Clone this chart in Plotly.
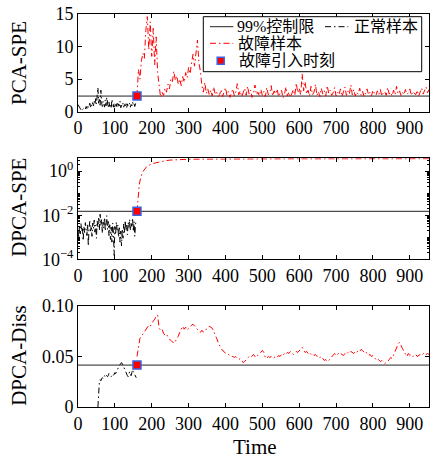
import plotly.graph_objects as go

# ---------------- data ----------------
x_ticks = [0, 100, 200, 300, 400, 500, 600, 700, 800, 900]
fault_time = 160

# PCA-SPE
pca_limit = 2.4
pca_normal = [1.1, 0.9, 0.6, 0.4, 0.3, 0.5, 0.3, 0.4, 0.6, 0.5,
              0.4, 0.8, 0.5, 1.0, 0.6, 0.9, 1.3, 0.7, 1.1, 0.8,
              1.4, 0.9, 1.6, 1.1, 2.0, 1.2, 2.4, 3.7, 1.3, 2.1,
              1.0, 3.3, 1.4, 0.8, 1.6, 1.1, 0.7, 1.8, 0.9, 2.2,
              1.0, 0.6, 1.5, 0.8, 1.2, 0.5, 1.9, 0.9, 0.7, 1.3,
              0.6, 1.1, 0.8, 1.5, 0.7, 1.2, 0.9, 1.6, 0.6, 1.0,
              0.8, 1.3, 0.7, 1.1, 0.9, 1.4, 0.6, 1.2, 0.8, 1.0,
              1.3, 0.7, 1.1, 0.9, 1.5, 1.0, 1.2, 0.8, 1.4, 1.6]
pca_fault = [2.4, 6.5, 5.0, 7.8, 9.0, 8.2, 12.5, 14.6, 9.5, 13.8,
             8.5, 12.8, 7.2, 11.5, 6.0, 4.0, 2.2, 3.0, 2.5, 3.6,
             3.0, 4.2, 3.5, 5.0, 4.6, 6.2, 4.8, 5.5, 4.2, 5.0,
             4.0, 5.4, 4.5, 6.0, 5.2, 6.8, 5.8, 7.5, 8.8, 7.0,
             9.3, 11.0, 7.5, 6.2, 4.0, 3.0, 4.5, 2.8, 3.5, 2.6,
             3.3, 2.4, 3.8, 2.7, 3.0, 2.3,
             2.6, 3.4, 2.3, 2.9, 3.7, 2.5, 3.1, 2.2, 2.8, 3.5,
             2.4, 3.0, 4.3, 2.6, 3.2, 2.3, 2.9, 3.6, 2.5, 3.9,
             2.7, 3.3, 2.2, 2.8, 4.1, 2.6, 3.0, 2.4, 3.4, 2.5,
             3.1, 2.3, 3.7, 2.6, 2.9, 4.0, 2.4, 3.2, 2.7, 3.5,
             2.3, 2.9, 3.3, 2.1, 2.7, 3.8, 2.4, 3.0, 2.2, 2.8,
             3.4, 2.5, 4.4, 2.9, 3.6, 2.6, 5.8, 3.2, 4.6, 2.7,
             3.3, 2.4, 3.9, 2.6, 3.0, 4.2, 2.5, 3.1, 2.3, 3.6,
             2.7, 3.2, 2.4, 4.0, 2.8, 3.3, 2.5, 2.9, 3.7, 2.4,
             3.0, 2.6, 3.5, 2.3, 2.9, 3.8, 2.5, 3.2, 2.7, 4.1,
             2.6, 3.4, 2.4, 3.0, 2.7, 3.6, 2.5, 3.1, 2.3, 2.9,
             3.5, 2.6, 3.0, 2.4, 3.3, 2.8, 2.5, 3.2, 2.6, 3.4,
             2.4, 2.9, 3.1, 2.5, 3.7, 2.7, 3.0, 2.4, 3.3, 2.6,
             3.9, 2.8, 3.2, 2.5, 3.0, 2.6, 3.4, 2.7, 2.9, 3.5,
             2.5, 3.1, 2.8, 2.6, 3.3, 2.4, 3.0, 3.6, 2.7, 3.2,
             3.8, 2.9, 3.4]

# DPCA-SPE
dspe_limit = 0.015
dspe_normal = [0.0021, 0.0009, 0.0035, 0.0014, 0.0042, 0.0018, 0.0028, 0.0007, 0.0031, 0.0016,
               0.0046, 0.0022, 0.0012, 0.0038, 0.0004, 0.0027, 0.0052, 0.0019, 0.0033, 0.0011,
               0.0044, 0.0025, 0.0060, 0.0017, 0.0036, 0.0009, 0.0055, 0.0029, 0.0072, 0.0021,
               0.0110, 0.0034, 0.0065, 0.0015, 0.0048, 0.0026, 0.0080, 0.0019, 0.0041, 0.0095,
               0.0023, 0.0052, 0.0012, 0.0037, 0.0008, 0.0029, 0.0006, 0.0044, 0.0017, 0.00015,
               0.0031, 0.0013, 0.0049, 0.0022, 0.0035, 0.0010, 0.0027, 0.0006, 0.0019, 0.0004,
               0.0024, 0.0009, 0.0040, 0.0016, 0.0058, 0.0021, 0.0036, 0.0013, 0.0047, 0.0028,
               0.0066, 0.0020, 0.0043, 0.0031, 0.0075, 0.0018, 0.0052, 0.0011, 0.0039, 0.0060]
dspe_fault_t = [160, 162, 164, 166, 168, 170, 173, 176, 180, 185, 190, 195, 200,
                210, 220, 230, 240, 250, 260, 270, 280, 290, 300,
                320, 340, 360, 380, 400, 420, 440, 460, 480, 500, 520, 540, 560,
                580, 600, 620, 640, 660, 680, 700, 720, 740, 760, 780, 800, 820,
                840, 860, 880, 900, 920, 940, 952]
dspe_fault = [0.015, 0.05, 0.12, 0.22, 0.35, 0.5, 0.72, 0.95, 1.2, 1.5, 1.75, 1.95, 2.1,
              2.35, 2.6, 2.8, 3.0, 3.15, 3.25, 3.32, 3.38, 3.42, 3.45,
              3.47, 3.5, 3.48, 3.52, 3.55, 3.53, 3.56, 3.58, 3.55, 3.57, 3.6, 3.58, 3.61,
              3.59, 3.62, 3.6, 3.63, 3.61, 3.6, 3.63, 3.62, 3.64, 3.62, 3.65, 3.63, 3.64,
              3.62, 3.65, 3.64, 3.66, 3.64, 3.65, 3.66]

# DPCA-Diss
diss_limit = 0.0415
diss_normal_start = 54
diss_normal = [0.0, 0.024, 0.025, 0.027, 0.026, 0.028, 0.029, 0.028, 0.030, 0.031,
               0.030, 0.032, 0.031, 0.030, 0.031, 0.033, 0.032, 0.031, 0.030, 0.031,
               0.032, 0.031, 0.033, 0.034, 0.033, 0.035, 0.036, 0.038, 0.039, 0.041,
               0.042, 0.043, 0.044, 0.043, 0.041, 0.040, 0.038, 0.036, 0.034, 0.033,
               0.031, 0.030, 0.032, 0.035, 0.033, 0.031, 0.034, 0.037, 0.035, 0.033,
               0.031, 0.030, 0.029]
diss_fault = [0.050, 0.062, 0.068, 0.070, 0.072, 0.075, 0.077, 0.079, 0.081, 0.080,
              0.083, 0.085, 0.087, 0.090, 0.091, 0.078, 0.076, 0.077, 0.073, 0.071,
              0.072, 0.069, 0.067, 0.066, 0.064, 0.063, 0.065, 0.067, 0.070, 0.074,
              0.078, 0.080, 0.077, 0.079, 0.076, 0.078, 0.080, 0.081, 0.082, 0.080,
              0.078, 0.077, 0.075, 0.074, 0.076, 0.074, 0.075, 0.077, 0.078, 0.080,
              0.079, 0.078, 0.075, 0.072, 0.068, 0.064, 0.060, 0.058, 0.056, 0.055,
              0.053, 0.052, 0.052, 0.051, 0.050, 0.050, 0.049, 0.050, 0.048, 0.047,
              0.048, 0.046, 0.044, 0.045, 0.047, 0.048, 0.050, 0.049, 0.051, 0.052,
              0.050, 0.052, 0.051, 0.053, 0.055, 0.056, 0.054, 0.049, 0.048, 0.050,
              0.049, 0.050, 0.048, 0.049, 0.050, 0.049, 0.051, 0.050, 0.052, 0.051,
              0.053, 0.052, 0.054, 0.053, 0.055, 0.054, 0.052, 0.053, 0.055, 0.054,
              0.056, 0.058, 0.059, 0.056, 0.054, 0.055, 0.053, 0.054, 0.052, 0.053,
              0.051, 0.052, 0.050, 0.051, 0.049, 0.050, 0.048, 0.046, 0.047, 0.045,
              0.046, 0.048, 0.050, 0.052, 0.053, 0.051, 0.052, 0.054, 0.053, 0.052,
              0.051, 0.053, 0.052, 0.054, 0.053, 0.055, 0.054, 0.053, 0.055, 0.054,
              0.056, 0.055, 0.057, 0.056, 0.054, 0.055, 0.053, 0.051, 0.052, 0.050,
              0.051, 0.049, 0.047, 0.048, 0.046, 0.045, 0.046, 0.044, 0.043, 0.044,
              0.045, 0.047, 0.049, 0.048, 0.052, 0.055, 0.058, 0.062, 0.064, 0.060,
              0.058, 0.055, 0.052, 0.050, 0.053, 0.051, 0.052, 0.050, 0.051, 0.052,
              0.050, 0.051, 0.052, 0.051, 0.053, 0.054, 0.052, 0.053, 0.052]

legend_labels = ["99%控制限", "正常样本", "故障样本", "故障引入时刻"]
y_titles = ["PCA-SPE", "DPCA-SPE", "DPCA-Diss"]
x_title = "Time"

# ---------------- styling ----------------
W, H = 430, 461
ML, MR, MT, MB = 78, 1, 14, 54
PW, PH = W - ML - MR, H - MT - MB
FONT = "Liberation Serif, Times New Roman, Noto Sans CJK SC, serif"
RED = "#ff0000"
DASHDOT = "6px,3px,1.5px,3px"
X_MAX = 952


def px(x):
    return (x - ML) / PW


def py(y):
    return (H - MB - y) / PH


t_pca_normal = [2 * i for i in range(len(pca_normal))]
t_pca_fault = [fault_time + 4 * i for i in range(len(pca_fault))]
t_dspe_normal = [2 * i for i in range(len(dspe_normal))]
t_diss_normal = [diss_normal_start + 2 * i for i in range(len(diss_normal))]
t_diss_fault = [fault_time + 4 * i for i in range(len(diss_fault))]

fig = go.Figure()

panels = [
    ("x", "y", t_pca_normal, pca_normal, t_pca_fault, pca_fault, pca_limit),
    ("x2", "y2", t_dspe_normal, dspe_normal, dspe_fault_t, dspe_fault, dspe_limit),
    ("x3", "y3", t_diss_normal, diss_normal, t_diss_fault, diss_fault, diss_limit),
]
for xa, ya, tn, vn, tf, vf, lim in panels:
    fig.add_trace(go.Scatter(x=[0, X_MAX], y=[lim, lim], mode="lines",
                             line=dict(color="#222222", width=1),
                             xaxis=xa, yaxis=ya, showlegend=False, hoverinfo="skip"))
    fig.add_trace(go.Scatter(x=tn, y=vn, mode="lines",
                             line=dict(color="black", width=1, dash=DASHDOT),
                             xaxis=xa, yaxis=ya, showlegend=False))
    fig.add_trace(go.Scatter(x=tf, y=vf, mode="lines",
                             line=dict(color=RED, width=1, dash=DASHDOT),
                             xaxis=xa, yaxis=ya, showlegend=False))
    fig.add_trace(go.Scatter(x=[fault_time], y=[lim], mode="markers",
                             marker=dict(symbol="square", size=8, color=RED,
                                         line=dict(color="#3b63e0", width=1.5)),
                             xaxis=xa, yaxis=ya, showlegend=False))

axis_common = dict(showline=True, linecolor="black", linewidth=1, mirror="allticks",
                   ticks="inside", ticklen=4, tickcolor="black", showgrid=False,
                   zeroline=False, tickfont=dict(family=FONT, size=18, color="black"))

domains = [(py(111.7), 1.0), (py(259.3), py(158.3)), (0.0, py(306))]

layout = dict(
    width=W, height=H, margin=dict(l=ML, r=MR, t=MT, b=MB),
    paper_bgcolor="white", plot_bgcolor="white",
    font=dict(family=FONT, size=18, color="black"),
    showlegend=False,
)
for i, (xa, ya) in enumerate([("xaxis", "yaxis"), ("xaxis2", "yaxis2"), ("xaxis3", "yaxis3")]):
    yname = "y" if i == 0 else f"y{i + 1}"
    xname = "x" if i == 0 else f"x{i + 1}"
    layout[xa] = dict(axis_common, range=[0, X_MAX], tickvals=x_ticks, anchor=yname,
                      domain=[0, 1])
    layout[ya] = dict(axis_common, anchor=xname, domain=list(domains[i]))

layout["yaxis"].update(range=[0, 15], tickvals=[0, 5, 10, 15])
layout["yaxis2"].update(type="log", range=[-4, 0.58], tickvals=[1e-4, 1e-2, 1],
                        ticktext=["10<sup>\u22124</sup>", "10<sup>\u22122</sup>", "10<sup>0</sup>"],
                        minor=dict(ticks="inside", ticklen=2, tickcolor="black",
                                   tickvals=[m * 10 ** e for e in range(-4, 1) for m in range(2, 10)]
                                   + [1e-3, 1e-1]))
layout["yaxis3"].update(range=[0, 0.1], tickvals=[0, 0.05, 0.1], ticktext=["0", "0.05", "0.10"])
fig.update_layout(**layout)

# axis titles as annotations
ann = []
for title, yc in zip(y_titles, [63, 207.8, 355.8]):
    ann.append(dict(text=title, x=px(19), y=py(yc), xref="paper", yref="paper",
                    textangle=-90, showarrow=False, xanchor="center", yanchor="middle",
                    font=dict(family=FONT, size=21, color="black")))
ann.append(dict(text=x_title, x=px(255), y=py(446.7), xref="paper", yref="paper",
                showarrow=False, xanchor="center", yanchor="middle",
                font=dict(family=FONT, size=21, color="black")))

# custom legend
LF = dict(family=FONT, size=16, color="black")
shapes = [dict(type="rect", xref="paper", yref="paper", x0=px(203.3), x1=px(421.7),
               y0=py(71.7), y1=py(16.7), line=dict(color="black", width=1),
               fillcolor="white", layer="above")]
rows = [(210, 233.3, 26.7, "#222222", "solid", 234.5, legend_labels[0]),
        (325, 348.3, 26.7, "black", DASHDOT, 351.7, legend_labels[1]),
        (210, 233.3, 43.3, RED, DASHDOT, 236, legend_labels[2])]
for x0, x1, yy, col, dash, tx, lab in rows:
    shapes.append(dict(type="line", xref="paper", yref="paper", x0=px(x0), x1=px(x1),
                       y0=py(yy), y1=py(yy), line=dict(color=col, width=1, dash=dash),
                       layer="above"))
    ann.append(dict(text=lab, x=px(tx), y=py(yy), xref="paper", yref="paper",
                    showarrow=False, xanchor="left", yanchor="middle", font=LF))
shapes.append(dict(type="rect", xref="paper", yref="paper", x0=px(217.2), x1=px(224.2),
                   y0=py(64.2), y1=py(57.2), fillcolor=RED,
                   line=dict(color="#3b63e0", width=1.5), layer="above"))
ann.append(dict(text=legend_labels[3], x=px(236.7), y=py(60.7), xref="paper", yref="paper",
                showarrow=False, xanchor="left", yanchor="middle", font=LF))

fig.update_layout(annotations=ann, shapes=shapes)
fig.write_html("out.html")
